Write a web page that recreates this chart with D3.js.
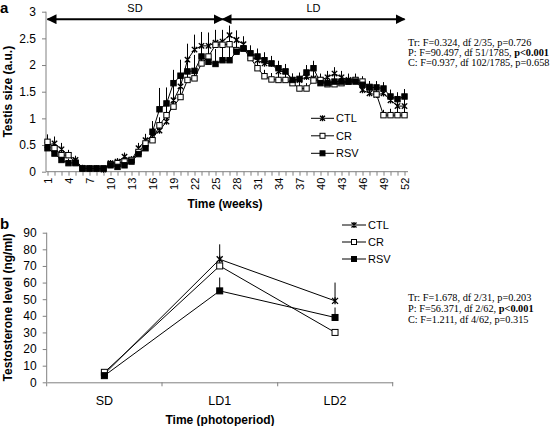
<!DOCTYPE html>
<html><head><meta charset="utf-8">
<script src="https://cdn.jsdelivr.net/npm/d3@7"></script>
<style>body{margin:0;background:#fff}svg{display:block}</style>
</head><body>
<svg id="c" width="554" height="426"></svg>
<script>
// ---- Panel a data ----
const weeks = d3.range(1, 53);
const weekTicks = [1,4,7,10,13,16,19,22,25,28,31,34,37,40,43,46,49,52];
const sizeTicks = [0,0.5,1,1.5,2,2.5,3];
const ctlSize = [0.50,0.53,0.42,0.31,0.22,0.07,0.06,0.06,0.04,0.16,0.19,0.28,0.22,0.44,0.59,0.66,0.77,0.94,1.34,1.60,2.10,2.29,2.36,2.36,2.42,2.44,2.56,2.47,2.39,2.16,2.09,2.03,2.03,1.88,1.88,1.72,1.72,1.78,1.75,1.72,1.77,1.84,1.77,1.72,1.72,1.53,1.47,1.44,1.47,1.34,1.23,1.23];
const crSize  = [0.56,0.44,0.31,0.31,0.16,0.06,0.06,0.06,0.06,0.14,0.16,0.19,0.22,0.37,0.53,0.59,0.87,1.06,1.22,1.40,1.72,1.75,2.03,2.16,2.38,2.38,2.39,2.28,2.31,2.13,1.94,1.79,1.73,1.72,1.72,1.66,1.56,1.56,1.71,1.72,1.64,1.64,1.66,1.69,1.72,1.69,1.59,1.45,1.06,1.06,1.06,1.06];
const rsvSize = [0.44,0.34,0.22,0.16,0.17,0.06,0.06,0.06,0.06,0.12,0.09,0.12,0.19,0.33,0.44,0.75,1.17,1.28,1.66,1.80,1.88,1.89,2.16,2.06,2.02,2.09,2.09,2.25,2.31,2.22,2.16,2.09,2.03,1.94,1.88,1.72,1.74,1.86,1.94,1.66,1.66,1.69,1.69,1.69,1.69,1.63,1.58,1.58,1.56,1.41,1.36,1.41];
const ctlErr  = [0.20,0.13,0.12,0.10,0.08,0.03,0.02,0.02,0.02,0.05,0.06,0.08,0.07,0.10,0.12,0.15,0.20,0.25,0.30,0.30,0.30,0.28,0.26,0.25,0.24,0.22,0.18,0.18,0.15,0.15,0.15,0.14,0.14,0.13,0.13,0.12,0.12,0.12,0.14,0.12,0.12,0.12,0.12,0.12,0.12,0.12,0.12,0.12,0.13,0.14,0.15,0.15];
const crErr   = [0.12,0.10,0.08,0.08,0.06,0.02,0.02,0.02,0.02,0.04,0.05,0.06,0.06,0.08,0.10,0.12,0.15,0.20,0.22,0.25,0.28,0.30,0.30,0.30,0.25,0.25,0.22,0.18,0.15,0.14,0.14,0.12,0.12,0.12,0.12,0.10,0.10,0.10,0.12,0.10,0.10,0.10,0.10,0.10,0.10,0.10,0.10,0.12,0.10,0.12,0.12,0.12];
const rsvErr  = [0.12,0.10,0.08,0.08,0.06,0.02,0.02,0.02,0.02,0.04,0.05,0.06,0.06,0.10,0.12,0.20,0.40,0.30,0.25,0.30,0.28,0.30,0.25,0.30,0.28,0.25,0.25,0.20,0.15,0.15,0.15,0.15,0.14,0.14,0.14,0.12,0.12,0.14,0.14,0.12,0.12,0.12,0.12,0.12,0.12,0.12,0.12,0.12,0.12,0.13,0.13,0.14];
const statsA = [["Tr: F=0.324, df 2/35, p=0.726", ""], ["P: F=90.497, df 51/1785, ", "p<0.001"], ["C: F=0.937, df 102/1785, p=0.658", ""]];

// ---- Panel b data ----
const periods = ["SD", "LD1", "LD2"];
const testoTicks = d3.range(0, 91, 10);
const ctlTesto = [5, 74, 49];
const crTesto  = [6, 70, 30];
const rsvTesto = [4, 55, 39];
const ctlTestoErr = [0, 9, 11];
const crTestoErr  = [0, 0, 0];
const rsvTestoErr = [0, 8, 6];
const statsB = [["Tr: F=1.678, df 2/31, p=0.203", ""], ["P: F=56.371, df 2/62, ", "p<0.001"], ["C: F=1.211, df 4/62, p=0.315", ""]];

const seriesNames = ["CTL", "CR", "RSV"];
const SANS = "'Liberation Sans', Arial, sans-serif";
const SERIF = "'Liberation Serif', 'Times New Roman', serif";
const svg = d3.select("#c");

function marker(g, type, x, y, s) {
  if (type === "CTL") {
    g.append("path").attr("d", `M${x-s},${y-s}L${x+s},${y+s}M${x-s},${y+s}L${x+s},${y-s}M${x},${y-s-0.5}L${x},${y+s+0.5}`)
      .attr("stroke", "#000").attr("stroke-width", 1.3).attr("fill", "none");
  } else {
    g.append("rect").attr("x", x - s).attr("y", y - s).attr("width", 2*s).attr("height", 2*s)
      .attr("fill", type === "RSV" ? "#000" : "#fff").attr("stroke", "#000").attr("stroke-width", 1);
  }
}

function styleAxis(g) {
  g.selectAll(".domain").attr("stroke", "#808080");
  g.selectAll(".tick line").attr("stroke", "#808080");
  g.selectAll("text").attr("fill", "#000").attr("font-family", SANS);
}

// ================= Panel a =================
const xa = d3.scaleLinear().domain([1, 52]).range([47.5, 404.5]);
const ya = d3.scaleLinear().domain([0, 3]).range([171.7, 11.7]);

const gaY = svg.append("g").attr("transform", "translate(46,0)")
  .call(d3.axisLeft(ya).tickValues(sizeTicks).tickSize(4).tickPadding(6).tickFormat(d3.format("")));
gaY.select(".domain").attr("d", `M0,${ya(3)}V${ya(0)}`);
gaY.selectAll("text").attr("font-size", 12);
styleAxis(gaY);

const gaX = svg.append("g").attr("transform", `translate(0,${ya(0)})`)
  .call(d3.axisBottom(xa).tickValues(weeks).tickSize(4).tickFormat(d => weekTicks.includes(d) ? d : ""));
gaX.select(".domain").attr("d", `M46,0H${xa(52) + 3.5}`);
gaX.selectAll("text").attr("font-size", 11).attr("transform", "rotate(-90)")
  .attr("text-anchor", "end").attr("x", -6).attr("y", 0).attr("dy", "0.35em");
styleAxis(gaX);

const dataA = [ctlSize, crSize, rsvSize];
const errA = [ctlErr, crErr, rsvErr];
const lineA = d3.line().x((d, i) => xa(weeks[i])).y(d => ya(d));
const ga = svg.append("g");
dataA.forEach((vals, k) => {
  ga.append("path").attr("d", lineA(vals)).attr("fill", "none").attr("stroke", "#000").attr("stroke-width", 1);
});
dataA.forEach((vals, k) => {
  vals.forEach((v, i) => {
    ga.append("line").attr("x1", xa(weeks[i])).attr("x2", xa(weeks[i]))
      .attr("y1", ya(v)).attr("y2", ya(v + errA[k][i])).attr("stroke", "#000").attr("stroke-width", 1);
  });
});
dataA.forEach((vals, k) => {
  vals.forEach((v, i) => marker(ga, seriesNames[k], xa(weeks[i]), ya(v), 2.7));
});

// arrows
const defs = svg.append("defs");
defs.append("marker").attr("id", "ah").attr("viewBox", "0 0 10 10").attr("refX", 9).attr("refY", 5)
  .attr("markerWidth", 5).attr("markerHeight", 5).attr("orient", "auto-start-reverse")
  .append("path").attr("d", "M0,0L10,5L0,10Z").attr("fill", "#000");
const arrowY = ya(2.86);
[[1, 26, "SD"], [26, 52, "LD"]].forEach(([a, b, lab]) => {
  svg.append("line").attr("x1", xa(a)).attr("x2", xa(b)).attr("y1", arrowY).attr("y2", arrowY)
    .attr("stroke", "#000").attr("stroke-width", 2)
    .attr("marker-start", "url(#ah)").attr("marker-end", "url(#ah)");
  svg.append("text").attr("x", (xa(a) + xa(b)) / 2).attr("y", 12).attr("text-anchor", "middle")
    .attr("font-family", SANS).attr("font-size", 11).text(lab);
});

// legend a
seriesNames.forEach((n, k) => {
  const y = 118.3 + k * 17.5;
  svg.append("line").attr("x1", 311).attr("x2", 334).attr("y1", y).attr("y2", y).attr("stroke", "#000");
  marker(svg, n, 322.5, y, 2.5);
  svg.append("text").attr("x", 336).attr("y", y).attr("dy", "0.35em").attr("font-family", SANS).attr("font-size", 11).text(n);
});

// titles a
svg.append("text").attr("x", 0).attr("y", 13).attr("font-family", SANS).attr("font-weight", "bold").attr("font-size", 15).text("a");
svg.append("text").attr("transform", `translate(12,${(ya(0)+ya(3))/2}) rotate(-90)`).attr("text-anchor", "middle")
  .attr("font-family", SANS).attr("font-weight", "bold").attr("font-size", 12).text("Testis size (a.u.)");
svg.append("text").attr("x", 225).attr("y", 208).attr("text-anchor", "middle")
  .attr("font-family", SANS).attr("font-weight", "bold").attr("font-size", 12).text("Time (weeks)");

function stats(lines, x, y0, dy) {
  lines.forEach((l, i) => {
    const t = svg.append("text").attr("x", x).attr("y", y0 + i * dy).attr("font-family", SERIF).attr("font-size", 10.3);
    t.append("tspan").text(l[0]);
    if (l[1]) t.append("tspan").attr("font-weight", "bold").text(l[1]);
  });
}
stats(statsA, 408, 46, 10);

// ================= Panel b =================
const xb = d3.scaleBand().domain(periods).range([46.7, 392.7]);
const yb = d3.scaleLinear().domain([0, 90]).range([382.3, 232.7]);

const gbY = svg.append("g").attr("transform", "translate(46.7,0)")
  .call(d3.axisLeft(yb).tickValues(testoTicks).tickSize(4).tickPadding(6));
gbY.select(".domain").attr("d", `M0,${yb(90)}V${yb(0)}`);
gbY.selectAll("text").attr("font-size", 12);
styleAxis(gbY);

const gbX = svg.append("g").attr("transform", `translate(0,${yb(0)})`)
  .call(d3.axisBottom(xb).tickSize(0).tickPadding(14));
gbX.selectAll("text").attr("font-size", 12.5);
styleAxis(gbX);
[46.7, 162, 277.7, 392.7].forEach(x => {
  svg.append("line").attr("x1", x).attr("x2", x).attr("y1", yb(0)).attr("y2", yb(0) + 4).attr("stroke", "#808080");
});

const dataB = [ctlTesto, crTesto, rsvTesto];
const errB = [ctlTestoErr, crTestoErr, rsvTestoErr];
const cx = p => xb(p) + xb.bandwidth() / 2;
const lineB = d3.line().x((d, i) => cx(periods[i])).y(d => yb(d));
const gb = svg.append("g");
dataB.forEach(vals => gb.append("path").attr("d", lineB(vals)).attr("fill", "none").attr("stroke", "#000").attr("stroke-width", 1));
dataB.forEach((vals, k) => vals.forEach((v, i) => {
  if (errB[k][i] > 0) gb.append("line").attr("x1", cx(periods[i])).attr("x2", cx(periods[i]))
    .attr("y1", yb(v)).attr("y2", yb(v + errB[k][i])).attr("stroke", "#000").attr("stroke-width", 1);
}));
dataB.forEach((vals, k) => vals.forEach((v, i) => marker(gb, seriesNames[k], cx(periods[i]), yb(v), 3)));

// legend b
seriesNames.forEach((n, k) => {
  const y = 225 + k * 17;
  svg.append("line").attr("x1", 342).attr("x2", 366).attr("y1", y).attr("y2", y).attr("stroke", "#000");
  marker(svg, n, 354, y, 2.5);
  svg.append("text").attr("x", 368).attr("y", y).attr("dy", "0.35em").attr("font-family", SANS).attr("font-size", 11).text(n);
});

svg.append("text").attr("x", 0).attr("y", 229).attr("font-family", SANS).attr("font-weight", "bold").attr("font-size", 15).text("b");
svg.append("text").attr("transform", `translate(12,${(yb(0)+yb(90))/2}) rotate(-90)`).attr("text-anchor", "middle")
  .attr("font-family", SANS).attr("font-weight", "bold").attr("font-size", 12).text("Testosterone level (ng/ml)");
svg.append("text").attr("x", 220).attr("y", 424).attr("text-anchor", "middle")
  .attr("font-family", SANS).attr("font-weight", "bold").attr("font-size", 12).text("Time (photoperiod)");
stats(statsB, 408, 301, 11);
</script>
</body></html>
